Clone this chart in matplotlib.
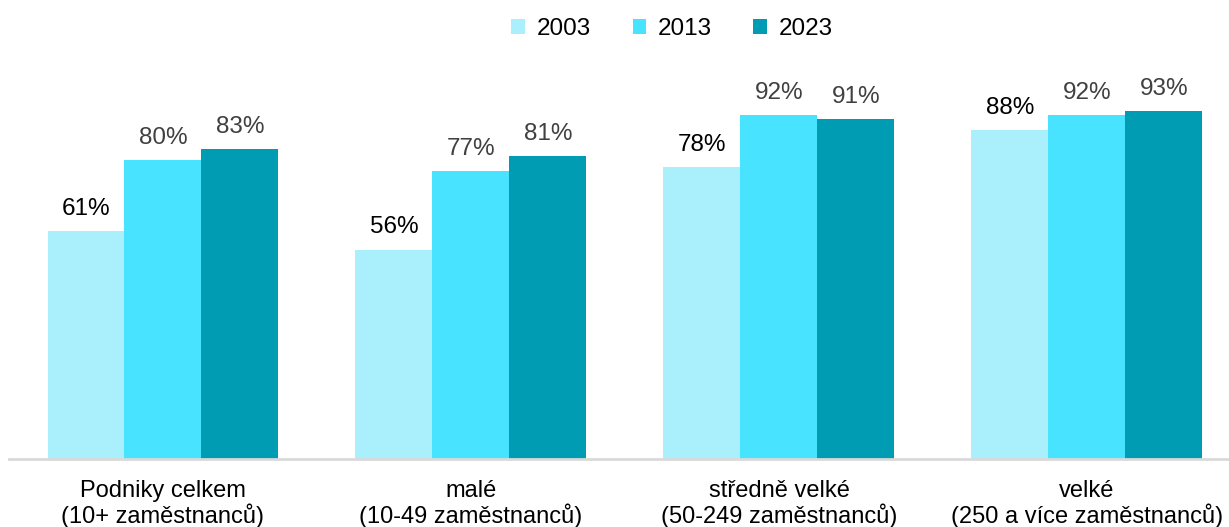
import matplotlib
matplotlib.use("Agg")
import matplotlib.pyplot as plt
import numpy as np

categories = ["Podniky celkem\n(10+ zaměstnanců)", "malé\n(10-49 zaměstnanců)",
              "středně velké\n(50-249 zaměstnanců)", "velké\n(250 a více zaměstnanců)"]
years = ["2003", "2013", "2023"]
v2003 = [61, 56, 78, 88]
v2013 = [80, 77, 92, 92]
v2023 = [83, 81, 91, 93]

colors = ["#AAF0FC", "#48E4FF", "#009CB4"]
label_colors = ["#000000", "#404040", "#404040"]

plt.rcParams['font.family'] = ['Liberation Sans', 'DejaVu Sans']

W, H = 1229, 527
fig = plt.figure(figsize=(W / 100, H / 100), dpi=100)
left_px, right_px, base_px, top_px = 9, 1229, 459, 85
ax = fig.add_axes([left_px / W, (H - base_px) / H, (right_px - left_px) / W, (base_px - top_px) / H])

x = np.arange(len(categories))
bw = 0.25
series = [v2003, v2013, v2023]
for i, (vals, c, lc, yr) in enumerate(zip(series, colors, label_colors, years)):
    pos = x + (i - 1) * bw
    ax.bar(pos, vals, width=bw, color=c, label=yr, linewidth=0)
    for p, v in zip(pos, vals):
        ax.text(p, v + 5.9, f"{v}%", ha="center", va="center", fontsize=17.5, color=lc)

ax.set_ylim(0, 100)
ax.set_xlim(-0.5, -0.5 + (right_px - left_px) / 308)
ax.set_yticks([])
ax.set_xticks(x)
ax.set_xticklabels(categories, fontsize=17, linespacing=1.1)
ax.tick_params(axis="x", length=0, pad=15)
for s in ["top", "right", "left"]:
    ax.spines[s].set_visible(False)
ax.spines["bottom"].set_color("#D9D9D9")
ax.spines["bottom"].set_linewidth(2)

leg = fig.legend(loc="center", bbox_to_anchor=(0.547, 0.945), ncol=3, frameon=False,
                 fontsize=17.5, handlelength=0.55, handleheight=0.55, columnspacing=1.7, handletextpad=0.5)

fig.savefig("out.png", dpi=100)
